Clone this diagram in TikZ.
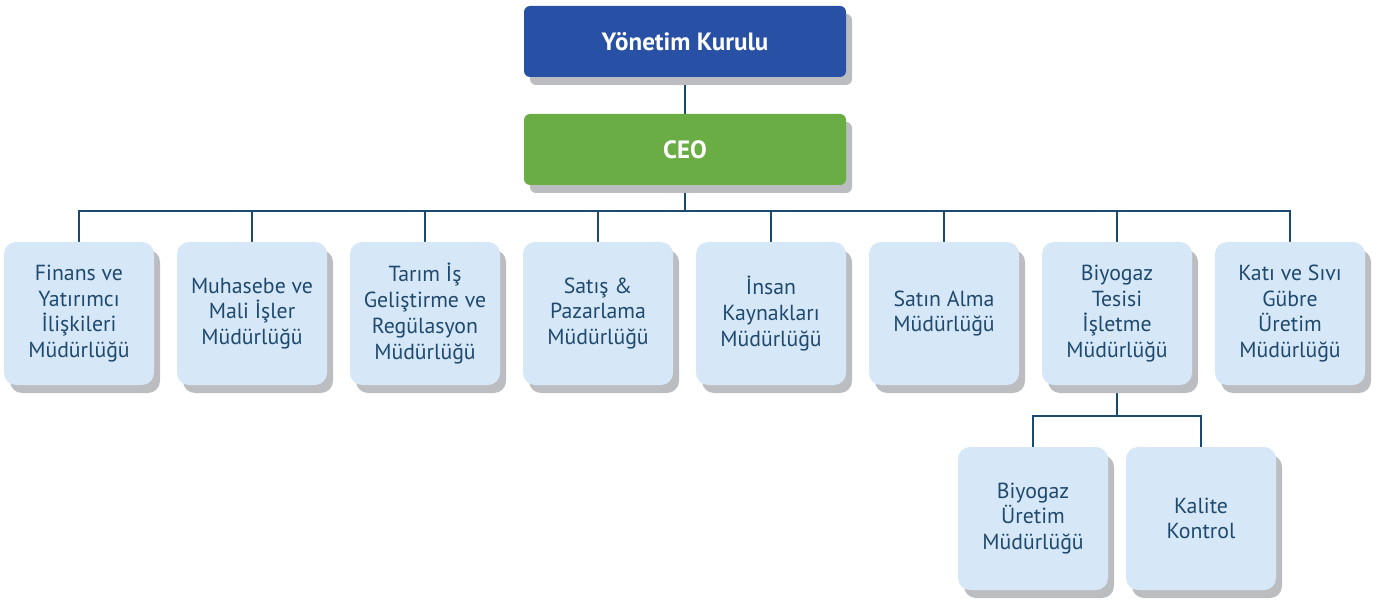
\documentclass[tikz,border=0pt]{standalone}
\usepackage{fontspec}
\setmainfont{PT Sans}
\usepackage{tikz}
\usetikzlibrary{shadows,backgrounds}
\definecolor{mydarkblue}{RGB}{40,80,165}
\definecolor{mygreen}{RGB}{106,173,69}
\definecolor{mylightblue}{RGB}{214,232,247}
\definecolor{mytext}{RGB}{31,73,110}
\definecolor{myline}{RGB}{27,74,110}
\definecolor{myshadow}{RGB}{188,189,192}

\begin{document}
\begin{tikzpicture}
    [x=1pt,y=-1pt,
     boardbox/.style={rectangle,rounded corners=6pt,minimum width=322pt,minimum height=71pt,inner sep=0pt,
        text=white,font=\fontsize{25}{30}\selectfont\bfseries,
        drop shadow={shadow xshift=6pt,shadow yshift=-8pt,fill=myshadow,opacity=1}},
     deptbox/.style={rectangle,rounded corners=12pt,fill=mylightblue,minimum width=150pt,minimum height=143pt,
        inner sep=0pt,align=center,text=mytext,font=\fontsize{21.8}{25.8}\selectfont,
        drop shadow={shadow xshift=6pt,shadow yshift=-8pt,fill=myshadow,opacity=1}},
     link/.style={myline,line width=2pt}]

    \useasboundingbox (0,0) rectangle (1387,604);

    % top
    \node[boardbox,fill=mydarkblue] (kurul) at (685,41.5) {Yönetim Kurulu};
    \node[boardbox,fill=mygreen] (ceo) at (685,149.5) {CEO};

    % departments
    \def\ydept{313.5}
    \node[deptbox] (finans) at (79,\ydept) {Finans ve\\Yatırımcı\\İlişkileri\\Müdürlüğü};
    \node[deptbox] (muhasebe) at (252,\ydept) {Muhasebe ve\\Mali İşler\\Müdürlüğü};
    \node[deptbox] (tarim) at (425,\ydept) {Tarım İş\\Geliştirme ve\\Regülasyon\\Müdürlüğü};
    \node[deptbox] (satis) at (598,\ydept) {Satış \&\\Pazarlama\\Müdürlüğü};
    \node[deptbox] (insan) at (771,\ydept) {İnsan\\Kaynakları\\Müdürlüğü};
    \node[deptbox] (satinalma) at (944,\ydept) {Satın Alma\\Müdürlüğü};
    \node[deptbox] (tesis) at (1117,\ydept) {Biyogaz\\Tesisi\\İşletme\\Müdürlüğü};
    \node[deptbox] (gubre) at (1290,\ydept) {Katı ve Sıvı\\Gübre\\Üretim\\Müdürlüğü};

    % under the plant
    \def\ysub{518.5}
    \node[deptbox] (uretim) at (1033,\ysub) {Biyogaz\\Üretim\\Müdürlüğü};
    \node[deptbox] (kalite) at (1201,\ysub) {Kalite\\Kontrol};

    \coordinate (bus) at (685,211);
    \coordinate (subbus) at (1117,416);

    \begin{scope}[on background layer]
        \draw[link] (kurul.south) -- (ceo.north);
        \draw[link] (ceo.south) -- (bus);
        \draw[link] (bus) -| (finans.north);
        \draw[link] (bus) -| (muhasebe.north);
        \draw[link] (bus) -| (tarim.north);
        \draw[link] (bus) -| (satis.north);
        \draw[link] (bus) -| (insan.north);
        \draw[link] (bus) -| (satinalma.north);
        \draw[link] (bus) -| (tesis.north);
        \draw[link] (bus) -| (gubre.north);
        \draw[link] (tesis.south) -- (subbus);
        \draw[link] (subbus) -| (uretim.north);
        \draw[link] (subbus) -| (kalite.north);
    \end{scope}
\end{tikzpicture}
\end{document}
